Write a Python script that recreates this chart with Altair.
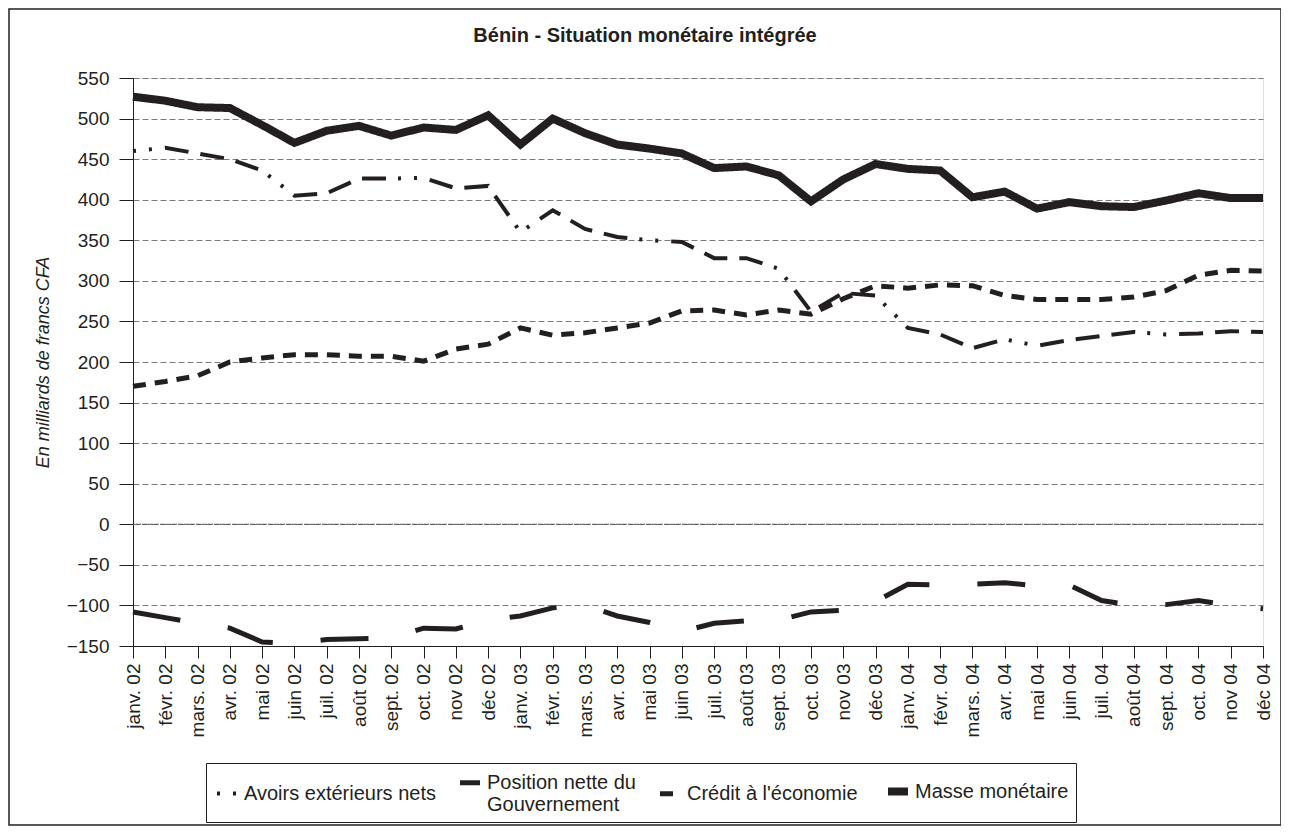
import altair as alt
import pandas as pd

months = ["janv. 02", "févr. 02", "mars. 02", "avr. 02", "mai 02", "juin 02",
          "juil. 02", "août 02", "sept. 02", "oct. 02", "nov 02", "déc 02",
          "janv. 03", "févr. 03", "mars. 03", "avr. 03", "mai 03", "juin 03",
          "juil. 03", "août 03", "sept. 03", "oct. 03", "nov 03", "déc 03",
          "janv. 04", "févr. 04", "mars. 04", "avr. 04", "mai 04", "juin 04",
          "juil. 04", "août 04", "sept. 04", "oct. 04", "nov 04", "déc 04"]

avoirs = [460, 464, 457, 450, 436, 405, 408, 426, 426, 427, 414, 417,
          360, 387, 364, 354, 350, 348, 328, 328, 315, 262, 285, 282,
          242, 234, 217, 228, 220, 227, 232, 237, 234, 235, 238, 237]
position = [-108, -115, -122, -128, -145, -147, -142, -141, -140, -128, -129, -118,
            -113, -103, -100, -113, -121, -132, -122, -119, -118, -108, -106, -95,
            -74, -75, -74, -72, -76, -75, -94, -100, -99, -94, -100, -104]
credit = [170, 176, 183, 200, 205, 209, 209, 207, 207, 201, 216, 222,
          242, 233, 236, 242, 248, 263, 264, 258, 264, 259, 278, 294,
          291, 295, 294, 282, 277, 277, 277, 280, 288, 307, 313, 312]
masse = [527, 522, 514, 513, 492, 470, 485, 491, 479, 489, 486, 504,
         468, 500, 482, 468, 463, 457, 439, 441, 430, 398, 425, 444,
         438, 436, 403, 410, 389, 397, 392, 391, 399, 408, 402, 402]

series = ["Avoirs extérieurs nets", "Position nette du Gouvernement",
          "Crédit à l'économie", "Masse monétaire"]
y_ticks = list(range(-150, 551, 50))

rows = []
for name, vals in zip(series, [avoirs, position, credit, masse]):
    for m, v in zip(months, vals):
        rows.append({"mois": m, "valeur": v, "serie": name})
df = pd.DataFrame(rows)

W, H = 1130, 568
INK = "#231f20"
FONT = "Liberation Sans"

dashes = [[3, 13, 3, 13, 24, 12, 24, 12, 24, 12], [48, 48], [13, 9], [1, 0]]
widths = [4, 5, 5, 8]

x_enc = alt.X("mois:N", sort=months, scale=alt.Scale(padding=0),
              axis=alt.Axis(title=None, labelAngle=-90, labelFontSize=19,
                            labelPadding=5, tickSize=12, domainColor=INK,
                            tickColor=INK, labelColor=INK, labelFont=FONT,
                            grid=False))
y_enc = alt.Y("valeur:Q", scale=alt.Scale(domain=[-150, 550], nice=False, zero=False),
              axis=alt.Axis(values=y_ticks, title="En milliards de francs CFA",
                            titleFontStyle="italic", titleFontWeight="normal",
                            titleFontSize=18, titleFont=FONT, titleColor=INK,
                            titleX=-81, labelFontSize=19, labelFont=FONT,
                            labelColor=INK, labelPadding=10, tickSize=14,
                            tickColor=INK, domainColor=INK, grid=True,
                            gridDash=[6, 3], gridColor="#7a7a7a", gridWidth=1))

lines = alt.Chart(df).mark_line(color=INK, strokeCap="butt", strokeJoin="miter").encode(
    x=x_enc,
    y=y_enc,
    strokeDash=alt.StrokeDash("serie:N", sort=series,
                              scale=alt.Scale(domain=series, range=dashes),
                              legend=alt.Legend(
                                  title=None, orient="none", legendX=73, legendY=685,
                                  direction="horizontal", columns=4,
                                  symbolType="stroke", symbolSize=400,
                                  symbolStrokeColor=INK, labelFontSize=20,
                                  labelFont=FONT, labelColor=INK, labelLimit=400,
                                  labelBaseline="middle", labelOffset=3,
                                  columnPadding=14, padding=7,
                                  strokeColor=INK,
                                  labelExpr="datum.label == 'Position nette du Gouvernement' ? ['Position nette du', 'Gouvernement'] : datum.label")),
    strokeWidth=alt.StrokeWidth("serie:N", sort=series,
                                scale=alt.Scale(type="ordinal", domain=series, range=widths)),
)

zero = alt.Chart(pd.DataFrame({"valeur": [0]})).mark_rule(
    color="#555555", strokeWidth=1, strokeDash=[5, 1]).encode(y=alt.Y("valeur:Q"))

frame = alt.Chart(pd.DataFrame({"k": [0]})).mark_rect(
    fill="transparent", stroke=INK, strokeWidth=1.5).encode(
    x=alt.value(-124), x2=alt.value(1148), y=alt.value(-69), y2=alt.value(747))

chart = alt.layer(zero, lines, frame).properties(
    width=W, height=H,
    title=alt.Title("Bénin - Situation monétaire intégrée", fontSize=20,
                    fontWeight="bold", font=FONT, color=INK, anchor="middle",
                    frame="bounds", offset=0, baseline="alphabetic", dy=54),
    padding={"left": 125, "top": 70, "right": 18, "bottom": 180},
    autosize=alt.AutoSizeParams(type="none"),
).configure_view(stroke=None).configure(background="white")

chart.save("out.html", embed_options={"renderer": "svg", "actions": False})
